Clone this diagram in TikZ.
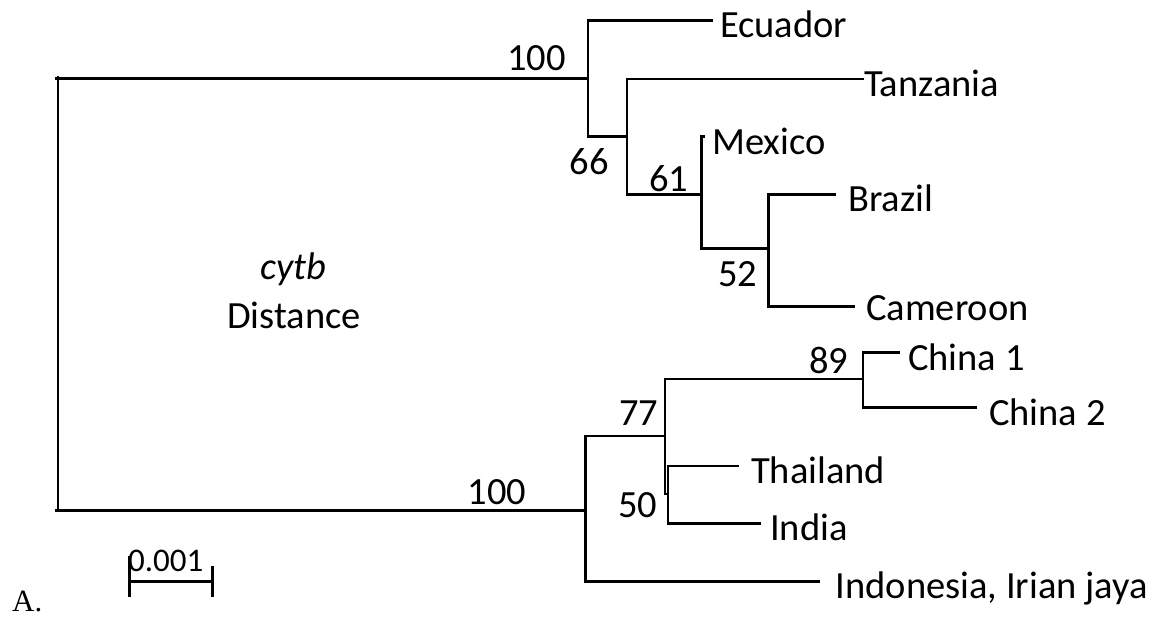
\documentclass[tikz,border=0pt]{standalone}
\usepackage{fontspec}
\setmainfont{Carlito}
\newfontfamily\serifA{Liberation Serif}
\begin{document}
\begin{tikzpicture}[x=1pt,y=-1pt,
  br/.style={line width=2.6pt,line join=miter},
  lab/.style={anchor=base west,inner sep=0pt,font=\fontsize{38.5}{46}\selectfont},
  sup/.style={anchor=base west,inner sep=0pt,font=\fontsize{38.5}{46}\selectfont},
  lbl/.style={anchor=base,inner sep=0pt,font=\fontsize{38.5}{46}\selectfont}]
\useasboundingbox (0,0) rectangle (1158,617);
% tree nodes
\coordinate (Rs) at (55,78.5);
\coordinate (Rt) at (57.8,76.5);
\coordinate (Rb) at (57.8,512);
\coordinate (Rbs) at (55,510.5);
\coordinate (A) at (588,78.5);
\coordinate (B) at (627,136.7);
\coordinate (C) at (701.6,194.3);
\coordinate (D) at (768.6,248.3);
\coordinate (E) at (585.3,510.5);
\coordinate (F) at (665,436);
\coordinate (H) at (863,379);
\coordinate (G) at (668,494);
% tips
\coordinate (tEcu) at (713,20.7);
\coordinate (tTan) at (864,79);
\coordinate (tMex) at (705,136.7);
\coordinate (tBra) at (835.5,194.3);
\coordinate (tCam) at (854.7,306.7);
\coordinate (tIdo) at (819.5,581.7);
\coordinate (tCh1) at (899.8,352.7);
\coordinate (tCh2) at (977,407.3);
\coordinate (tTha) at (739,466);
\coordinate (tInd) at (761,523.3);
% branches
\draw[br] (Rt) -- (Rb);
\draw[br] (Rs) -- (A);
\draw[br] (Rbs) -- (E);
\draw[br] (A) |- (tEcu);
\draw[br] (A) |- (B);
\draw[br] (B) |- (tTan);
\draw[br] (B) |- (C);
\draw[br] (C) |- (tMex);
\draw[br] (C) |- (D);
\draw[br] (D) |- (tBra);
\draw[br] (D) |- (tCam);
\draw[br] (E) |- (F);
\draw[br] (E) |- (tIdo);
\draw[br] (F) |- (H);
\draw[br] (F) |- (G);
\draw[br] (H) |- (tCh1);
\draw[br] (H) |- (tCh2);
\draw[br] (G) |- (tTha);
\draw[br] (G) |- (tInd);
% taxa
\node[lab] (nEcu) at (720,38) {Ecuador};
\node[lab] (nTan) at (864,97) {Tanzania};
\node[lab] (nMex) at (712,155) {Mexico};
\node[lab] (nBra) at (848,212) {Brazil};
\node[lab] (nCam) at (866,320) {Cameroon};
\node[lab] (nCh1) at (908,370) {China 1};
\node[lab] (nCh2) at (989,425) {China 2};
\node[lab] (nTha) at (751,483) {Thailand};
\node[lab] (nInd) at (770,540) {India};
\node[lab] (nIdo) at (835.5,598) {Indonesia, Irian jaya};
% support values
\node[sup] (b1) at (507,71) {100};
\node[sup] (b2) at (569.6,175) {66};
\node[sup] (b3) at (649,192) {61};
\node[sup] (b4) at (718,287) {52};
\node[sup] (b5) at (467.7,504) {100};
\node[sup] (b6) at (809,373) {89};
\node[sup] (b7) at (619,425) {77};
\node[sup] (b8) at (618,517) {50};
% title
\node[lbl] (t1) at (293.5,280) {\itshape cytb};
\node[lbl] (t2) at (294,328) {Distance};
% scale bar
\coordinate (s1) at (129.3,581.7);
\coordinate (s2) at (212.3,581.7);
\coordinate (s1t) at (129.3,556);
\coordinate (s1b) at (129.3,597);
\coordinate (s2t) at (212.3,566);
\coordinate (s2b) at (212.3,597);
\draw[br] (s1) -- (s2);
\draw[br] (s1t) -- (s1b);
\draw[br] (s2t) -- (s2b);
\node[anchor=base west,inner sep=0pt,font=\fontsize{33}{40}\selectfont] (sc) at (128,571) {0.001};
\node[anchor=base west,inner sep=0pt,font=\serifA\fontsize{31}{36}\selectfont] (pA) at (12,611) {A.};
\end{tikzpicture}
\end{document}
